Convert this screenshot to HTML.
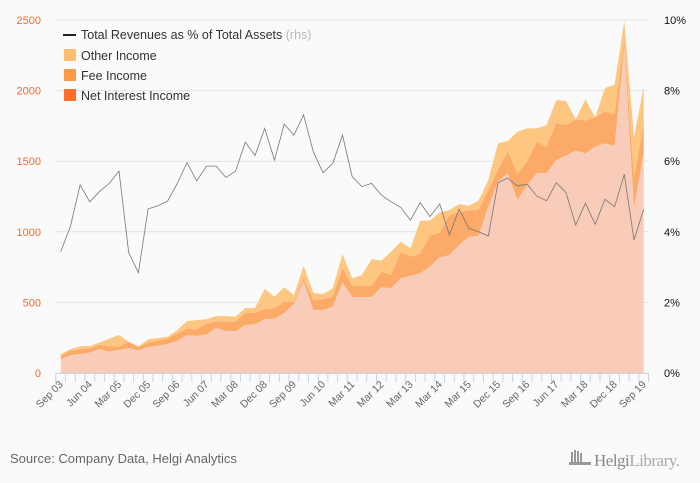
<!DOCTYPE html>
<html><head><meta charset="utf-8"><style>
html,body{margin:0;padding:0;background:#fafafa;}
svg{display:block;font-family:"Liberation Sans","DejaVu Sans",sans-serif;}
</style></head><body>
<svg id="chart" width="700" height="483" viewBox="0 0 700 483" xmlns="http://www.w3.org/2000/svg">
<rect x="0" y="0" width="700" height="483" fill="#fafafa"/>
<g id="grid"></g>
<g id="areas"></g>
<g id="line"></g>
<g id="axes"></g>
<g font-size="12.5" fill="#333">
 <g><line x1="63" y1="35" x2="76" y2="35" stroke="#222" stroke-width="2"/><text x="81" y="39">Total Revenues as % of Total Assets <tspan fill="#bbb">(rhs)</tspan></text></g>
 <g><rect x="64" y="49" width="12" height="12" fill="#fdbf6f"/><text x="81" y="60">Other Income</text></g>
 <g><rect x="64" y="69" width="12" height="12" fill="#fd9a45"/><text x="81" y="80">Fee Income</text></g>
 <g><rect x="64" y="89" width="12" height="12" fill="#fd6f2a"/><text x="81" y="100">Net Interest Income</text></g>
</g>
<text x="10" y="463" font-size="13" fill="#666">Source: Company Data, Helgi Analytics</text>
<g>
 <g fill="#999"><rect x="571" y="452" width="2" height="10"/><rect x="574" y="450" width="2" height="12"/><rect x="577" y="451" width="2" height="11"/><rect x="580" y="453" width="2" height="9"/><rect x="569" y="462" width="22" height="3"/></g>
 <text x="594" y="466" font-size="17" fill="#888" font-family="Liberation Serif,serif" letter-spacing="-0.5">Helgi<tspan fill="#aaa">Library.</tspan></text>
</g>
</svg>
<script>
const categories = ["Sep 03","Dec 03","Mar 04","Jun 04","Sep 04","Dec 04","Mar 05","Jun 05","Sep 05","Dec 05","Mar 06","Jun 06","Sep 06","Dec 06","Mar 07","Jun 07","Sep 07","Dec 07","Mar 08","Jun 08","Sep 08","Dec 08","Mar 09","Jun 09","Sep 09","Dec 09","Mar 10","Jun 10","Sep 10","Dec 10","Mar 11","Jun 11","Dec 11","Mar 12","Jun 12","Dec 12","Mar 13","Jun 13","Dec 13","Mar 14","Jun 14","Dec 14","Mar 15","Jun 15","Sep 15","Dec 15","Mar 16","Jun 16","Sep 16","Dec 16","Mar 17","Jun 17","Sep 17","Dec 17","Mar 18","Jun 18","Sep 18","Dec 18","Mar 19","Jun 19","Sep 19"];
const netInterestIncome = [97,127,134,144,168,151,163,175,160,182,193,205,229,267,262,271,319,297,297,338,345,380,384,423,489,647,446,446,470,640,536,536,536,607,600,670,687,706,753,819,835,906,965,970,1178,1355,1414,1225,1331,1414,1414,1508,1539,1574,1555,1602,1626,1607,2310,1166,1560];
const feeIncome = [23,31,34,28,30,40,23,47,26,33,36,38,52,47,47,76,47,64,66,85,82,71,74,82,16,23,71,76,70,101,80,82,82,110,94,185,136,141,217,174,284,232,189,184,118,82,153,184,165,224,188,260,217,222,231,208,224,227,48,212,208];
const otherIncome = [14,10,21,19,17,52,83,0,2,23,19,14,23,54,66,33,37,42,36,37,33,144,82,102,47,90,52,37,60,102,54,76,187,78,165,75,60,231,108,145,35,58,31,66,70,189,76,300,236,94,154,165,170,0,152,0,166,210,134,291,259];
const ratio = [3.44,4.15,5.33,4.85,5.14,5.37,5.72,3.41,2.84,4.65,4.74,4.87,5.37,5.96,5.44,5.86,5.86,5.54,5.72,6.54,6.16,6.93,6.03,7.05,6.74,7.31,6.27,5.67,5.94,6.74,5.56,5.28,5.37,5.04,4.85,4.69,4.33,4.83,4.43,4.79,3.91,4.64,4.10,4.00,3.88,5.39,5.52,5.30,5.35,5.01,4.88,5.39,5.11,4.19,4.81,4.21,4.92,4.71,5.63,3.77,4.64];
const leftTicks = [0,500,1000,1500,2000,2500];
const rightTicks = [0,2,4,6,8,10];

const NS="http://www.w3.org/2000/svg";
const X0=55.8, X1=648.6, Y0=373, Y1=20;
const n=categories.length, bw=(X1-X0)/n;
function xs(i){return X0+bw*(i+0.5);}
function yl(v){return Y0-(v/2500)*(Y0-Y1);}
function yr(p){return Y0-(p/10)*(Y0-Y1);}
function mk(tag,attrs,parent){const e=document.createElementNS(NS,tag);for(const k in attrs)e.setAttribute(k,attrs[k]);parent.appendChild(e);return e;}
const grid=document.getElementById('grid'),areas=document.getElementById('areas'),line=document.getElementById('line'),axes=document.getElementById('axes');
leftTicks.forEach((t,k)=>{
 if(t>0){const g=mk('line',{x1:X0,x2:X1,y1:yl(t),y2:yl(t),stroke:'#e2e2e2','stroke-width':1},grid);
 
 }
 const lb=mk('text',{x:41,y:yl(t)+4,'text-anchor':'end','font-size':11,fill:'#f26a2a'},axes);lb.textContent=String(t);
 
 
});
rightTicks.forEach(t=>{
 const lb=mk('text',{x:664,y:yr(t)+4,'font-size':11,fill:'#111'},axes);lb.textContent=t+'%';
 
 
});
function areaPath(top,bot){let d='';for(let i=0;i<n;i++)d+=(i?'L':'M')+xs(i).toFixed(1)+','+yl(top[i]).toFixed(1);for(let i=n-1;i>=0;i--)d+='L'+xs(i).toFixed(1)+','+yl(bot[i]).toFixed(1);return d+'Z';}
const zero=categories.map(()=>0);
const l1=netInterestIncome.slice();
const l2=l1.map((v,i)=>v+feeIncome[i]);
const l3=l2.map((v,i)=>v+otherIncome[i]);
const a3=mk('path',{d:areaPath(l3,l2),fill:'#fdc681'},areas);


const a2=mk('path',{d:areaPath(l2,l1),fill:'#fcaa68'},areas);


const a1=mk('path',{d:areaPath(l1,zero),fill:'#f9ccba'},areas);


let d='';ratio.forEach((p,i)=>{d+=(i?'L':'M')+xs(i).toFixed(1)+','+yr(p).toFixed(1);});
const rl=mk('path',{d:d,fill:'none',stroke:'#777','stroke-width':0.8},line);


const ax=mk('line',{x1:X0,x2:X1,y1:Y0+0.5,y2:Y0+0.5,stroke:'#c5d3e6','stroke-width':1},axes);


for(let i=0;i<=n;i++){const x=X0+bw*i;const tk=mk('line',{x1:x,x2:x,y1:Y0,y2:Y0+9,stroke:'#c5d3e6','stroke-width':1},axes);
 
 }
for(let i=0;i<n;i+=3){const x=xs(i)+3,y=Y0+12;
 const t=mk('text',{x:x,y:y,'text-anchor':'end','font-size':10.5,fill:'#666',transform:'rotate(-45 '+x+' '+y+')'},axes);
 t.textContent=categories[i];
 
 }
</script>
</body></html>
